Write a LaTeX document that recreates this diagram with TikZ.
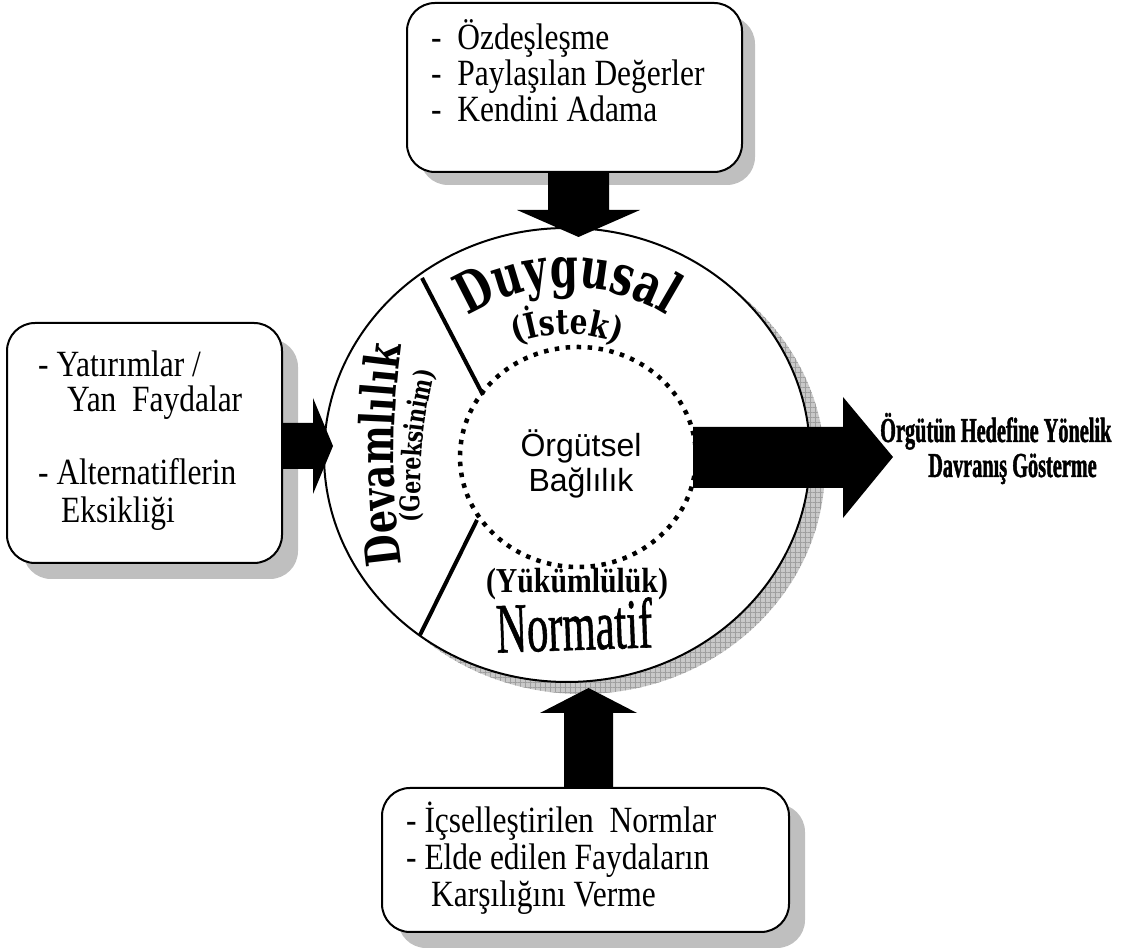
\documentclass[tikz,border=0pt]{standalone}
\usepackage{fontspec}
\usetikzlibrary{calc,decorations.text,patterns.meta,shadows}
\setmainfont{Liberation Serif}
\newfontfamily\boxfont[FakeStretch=0.85]{Liberation Serif}
\newfontfamily\goalfont[FakeStretch=0.58,FakeBold=1.2]{Liberation Serif}
\newfontfamily\tallserif[FakeStretch=0.6,FakeBold=0.8]{Liberation Serif}
\newfontfamily\dutyfont[FakeStretch=0.85]{Liberation Serif}
\newfontfamily\wordwide[FakeStretch=0.72]{DejaVu Serif}
\newfontfamily\wordmid[FakeStretch=0.8]{DejaVu Serif}
\newfontfamily\wordnarrow[FakeStretch=0.76]{DejaVu Serif}
\newfontfamily\centerfont{Liberation Sans}

\begin{document}
\begin{tikzpicture}[x=1pt,y=1pt,
  card/.style={draw=black, line width=2pt, fill=white, rounded corners=28pt, inner sep=0pt},
  cardshadow/.style={drop shadow={opacity=1, fill=gray!50, shadow xshift=#1, shadow yshift=-#1}},
  blockarrow/.style={fill=black},
  cardtext/.style={anchor=base west, inner sep=0pt, font=\boxfont\fontsize{37}{37}\selectfont},
  goaltext/.style={anchor=base west, inner sep=0pt, font=\goalfont\bfseries\fontsize{35}{36}\selectfont},
  divider/.style={line width=4pt},
]
\useasboundingbox (0,0) rectangle (1132,952);

% ---- the three cards ----
\node[card, cardshadow=13pt, minimum width=335pt, minimum height=169pt] (topbox) at (574.5,864.5) {};
\node[card, cardshadow=16pt, minimum width=275pt, minimum height=240pt] (leftbox) at (144.5,509) {};
\node[card, cardshadow=16pt, minimum width=407pt, minimum height=144pt] (bottombox) at (585.5,92) {};

% ---- central disc with its hatched shadow ----
\coordinate (C) at (567,497);
\fill[gray!42] ($(C)+(15,-12)$) ellipse[x radius=243pt, y radius=227pt];
\fill[pattern={Hatch[angle=0,distance=5pt,line width=0.6pt]}, pattern color=gray!75]
  ($(C)+(15,-12)$) ellipse[x radius=243pt, y radius=227pt];
\draw[line width=2pt, fill=white] (C) ellipse[x radius=243pt, y radius=227pt];

% inner dotted ring
\draw[line width=4.5pt, dash pattern=on 4.5pt off 6.5pt] (578,495) ellipse[x radius=118pt, y radius=110pt];

% sector dividers
\coordinate (d1a) at (422,674); \coordinate (d1b) at (483,557);
\coordinate (d2a) at (477,432); \coordinate (d2b) at (420,317);
\draw[divider] (d1a) -- (d1b);
\draw[divider] (d2a) -- (d2b);

% ---- curved sector words ----
\path[decorate, decoration={text along path, text align=center,
    text={|\wordwide\bfseries\fontsize{56}{56}\selectfont|Duygusal}}]
  ($(C)+(160:177pt and 168pt)$) arc[start angle=160, end angle=20, x radius=177pt, y radius=168pt];
\path[decorate, decoration={text along path, text align=center,
    text={|\wordmid\bfseries\fontsize{35}{35}\selectfont|(İstek)}}]
  ($(C)+(135:132pt and 121pt)$) arc[start angle=135, end angle=45, x radius=132pt, y radius=121pt];
\path[decorate, decoration={text along path, text align=center,
    text={|\wordnarrow\bfseries\fontsize{48}{48}\selectfont|Devamlılık}}]
  ($(1194,497)+(190:800pt)$) arc[start angle=190, end angle=170, radius=800pt];
\path[decorate, decoration={text along path, text align=center,
    text={|\wordnarrow\bfseries\fontsize{27}{27}\selectfont|(Gereksinim)}}]
  (419,400) .. controls (421,520) .. (441,610);

\node[anchor=base, inner sep=0pt, font=\dutyfont\bfseries\fontsize{35}{35}\selectfont] (yukum) at (577,359) {(Yükümlülük)};
\node[anchor=base, inner sep=0pt, rotate=2, font=\tallserif\fontsize{71}{71}\selectfont] (normatif) at (575,302) {Normatif};

% centre label
\node[anchor=base, inner sep=0pt, font=\centerfont\fontsize{32}{32}\selectfont] (bag1) at (581,495) {Örgütsel};
\node[anchor=base, inner sep=0pt, font=\centerfont\fontsize{32}{32}\selectfont] (bag2) at (581,460) {Bağlılık};

% ---- block arrows ----
\fill[blockarrow] (548,780) -- (548,742) -- (517,742) -- (578.5,715) -- (640,742) -- (609,742) -- (609,780) -- cycle;
\fill[blockarrow] (282,483) -- (313,483) -- (313,458) -- (333,506) -- (313,554) -- (313,529) -- (282,529) -- cycle;
\fill[blockarrow] (693,464) -- (843,464) -- (843,434) -- (893,495) -- (843,555) -- (843,525) -- (693,525) -- cycle;
\fill[blockarrow] (564,164) -- (564,239) -- (540,239) -- (588.5,264) -- (637,239) -- (613,239) -- (613,164) -- cycle;

% ---- card texts ----
\node[cardtext] (t1) at (431,902) {-~ Özdeşleşme};
\node[cardtext] (t2) at (431,866) {-~ Paylaşılan Değerler};
\node[cardtext] (t3) at (431,830) {-~ Kendini Adama};

\node[cardtext] (l1) at (38,575) {- Yatırımlar /};
\node[cardtext] (l2) at (67,540) {Yan~ Faydalar};
\node[cardtext] (l3) at (38,467) {- Alternatiflerin};
\node[cardtext] (l4) at (61,429) {Eksikliği};

\node[cardtext] (b1) at (406,119) {- İçselleştirilen~ Normlar};
\node[cardtext] (b2) at (406,82) {- Elde edilen Faydaların};
\node[cardtext] (b3) at (431,45) {Karşılığını Verme};

% ---- outcome label ----
\node[goaltext] (g1) at (880,510) {Örgütün Hedefine Yönelik};
\node[goaltext] (g2) at (928,475) {Davranış Gösterme};
\end{tikzpicture}
\end{document}
